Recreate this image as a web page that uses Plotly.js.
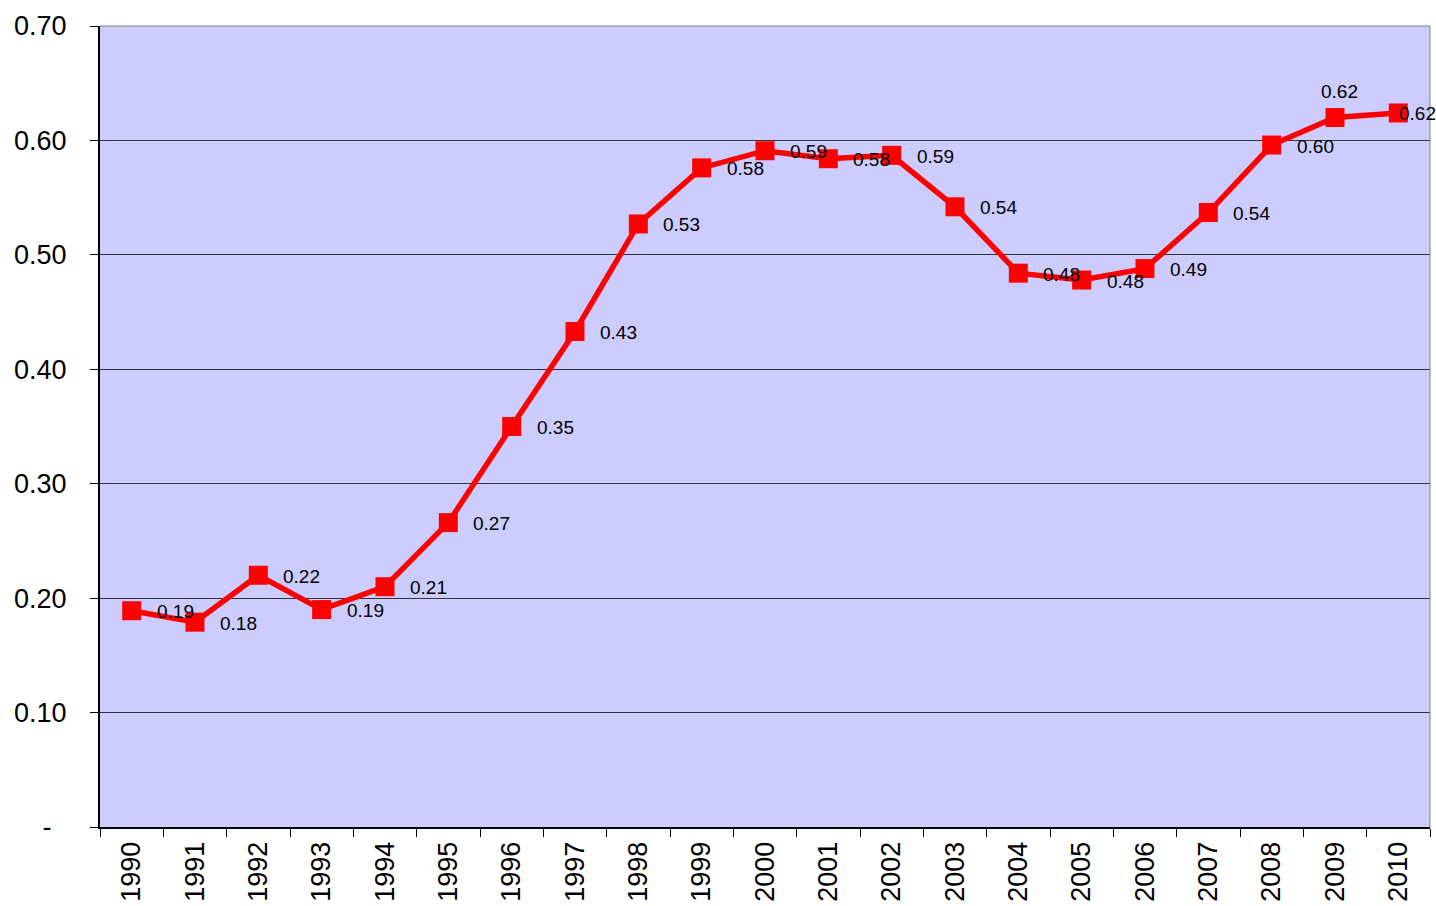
<!DOCTYPE html>
<html>
<head>
<meta charset="utf-8">
<script src="https://cdn.plot.ly/plotly-3.0.1.min.js"></script>
<style>html,body{margin:0;padding:0;background:#fff;}#chart{width:1436px;height:906px;}</style>
</head>
<body>
<div id="chart"></div>
<script>
const years = ["1990","1991","1992","1993","1994","1995","1996","1997","1998","1999","2000","2001","2002","2003","2004","2005","2006","2007","2008","2009","2010"];
const values = [0.189,0.179,0.220,0.190,0.210,0.266,0.350,0.433,0.527,0.576,0.591,0.584,0.587,0.542,0.484,0.478,0.488,0.537,0.596,0.620,0.624];
const labelAbove = ["2009"];
const labelTight = ["2010"];
const yTickVals = [0,0.1,0.2,0.3,0.4,0.5,0.6,0.7];
const yTickText = ["-\u00a0\u00a0","0.10","0.20","0.30","0.40","0.50","0.60","0.70"];

const trace = {
  x: years, y: values, type: "scatter", mode: "lines+markers",
  line: {color: "#FF0000", width: 5.5},
  marker: {symbol: "square", size: 19, color: "#FF0000"},
  hoverinfo: "x+y"
};

const annotations = years.map((yr, i) => {
  const above = labelAbove.includes(yr);
  const tight = labelTight.includes(yr);
  return {
    x: i, y: values[i], xref: "x", yref: "y",
    text: values[i].toFixed(2), showarrow: false,
    font: {family: "Liberation Sans, Arial, sans-serif", size: 19, color: "#000"},
    xanchor: above ? "center" : "left",
    yanchor: above ? "bottom" : "middle",
    xshift: above ? 4 : (tight ? -1 : 23),
    yshift: above ? 14 : -1
  };
});

const layout = {
  width: 1436, height: 906,
  margin: {l: 100, r: 6, t: 26, b: 79},
  paper_bgcolor: "#FFFFFF",
  plot_bgcolor: "#CCCCFF",
  showlegend: false,
  font: {family: "Liberation Sans, Arial, sans-serif", color: "#000"},
  xaxis: {
    type: "category", range: [-0.5, 20.5],
    tickson: "boundaries", ticks: "outside", ticklen: 8, tickcolor: "#000", tickwidth: 1,
    tickangle: -90, tickfont: {size: 27}, ticklabelstandoff: 2,
    showline: true, linecolor: "#000", linewidth: 2,
    showgrid: false, zeroline: false, fixedrange: true
  },
  yaxis: {
    range: [0, 0.7], tickvals: yTickVals, ticktext: yTickText,
    ticks: "outside", ticklen: 8, tickcolor: "#000", tickwidth: 1,
    tickfont: {size: 27}, ticklabelstandoff: 18,
    showline: true, linecolor: "#000", linewidth: 2,
    showgrid: true, gridcolor: "#333333", gridwidth: 1,
    zeroline: false, fixedrange: true
  },
  shapes: [
    {type: "line", xref: "paper", yref: "paper", x0: 1, x1: 1, y0: 0, y1: 1, line: {color: "#808080", width: 1}},
    {type: "line", xref: "paper", yref: "paper", x0: 0, x1: 1, y0: 1, y1: 1, line: {color: "#808080", width: 1}}
  ],
  annotations: annotations
};

Plotly.newPlot("chart", [trace], layout, {displayModeBar: false, staticPlot: true});
</script>
</body>
</html>
